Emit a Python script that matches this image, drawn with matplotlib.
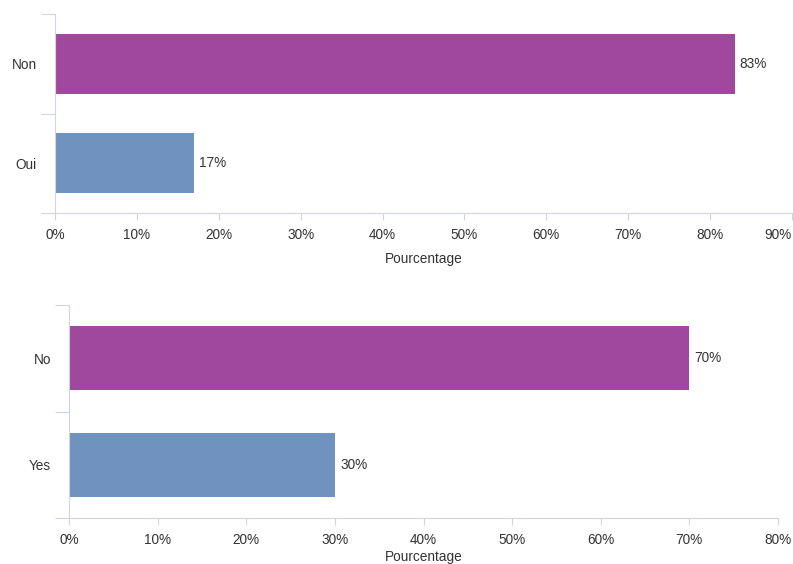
import matplotlib.pyplot as plt
from matplotlib.ticker import FixedLocator

plt.rcParams['font.family'] = ['Liberation Sans', 'DejaVu Sans']

# données des deux graphiques
cats_fr = ['Oui', 'Non']
vals_fr = [17, 83]
cats_en = ['Yes', 'No']
vals_en = [30, 70]
colors = ['#6f92bf', '#a0489e']
ticks_fr = list(range(0, 91, 10))
ticks_en = list(range(0, 81, 10))

axis_col = '#cdd6e2'
text_col = '#333333'
fs = 9.8

fig = plt.figure(figsize=(7.93, 5.64), dpi=100)
ax1 = fig.add_axes([55 / 793, 1 - 213 / 564, 737 / 793, 199 / 564])
ax2 = fig.add_axes([69 / 793, 1 - 518 / 564, 709 / 793, 213 / 564])


def draw(ax, cats, vals, ticks, lpad):
    ypos = list(range(len(cats)))
    ax.barh(ypos, vals, height=0.6, color=colors)
    for y, v in zip(ypos, vals):
        ax.text(v + 0.6, y, '%d%%' % v, va='center', ha='left',
                fontsize=fs, color=text_col)
    ax.set_xlim(ticks[0], ticks[-1])
    ax.set_ylim(-0.5, len(cats) - 0.5)
    ax.set_xticks(ticks)
    ax.set_xticklabels(['%d%%' % t for t in ticks], fontsize=fs, color=text_col)
    # ticks aux limites de catégories, étiquettes au centre
    ax.yaxis.set_major_locator(FixedLocator([-0.5, 0.5, 1.5]))
    ax.yaxis.set_major_formatter(plt.NullFormatter())
    ax.yaxis.set_minor_locator(FixedLocator(ypos))
    ax.set_yticklabels(cats, minor=True, fontsize=fs, color=text_col)
    ax.tick_params(axis='y', which='major', length=10, color=axis_col)
    ax.tick_params(axis='y', which='minor', length=0, pad=13)
    ax.tick_params(axis='x', length=5, color=axis_col, pad=6)
    for s in ['top', 'right']:
        ax.spines[s].set_visible(False)
    for s in ['left', 'bottom']:
        ax.spines[s].set_color(axis_col)
    ax.set_xlabel('Pourcentage', fontsize=fs, color=text_col, labelpad=lpad)


draw(ax1, cats_fr, vals_fr, ticks_fr, 7)
draw(ax2, cats_en, vals_en, ticks_en, 2)

# la dernière étiquette du haut est calée à droite pour rester dans l'image
ax1.get_xticklabels()[-1].set_horizontalalignment('right')

fig.savefig('out.png', dpi=100)
